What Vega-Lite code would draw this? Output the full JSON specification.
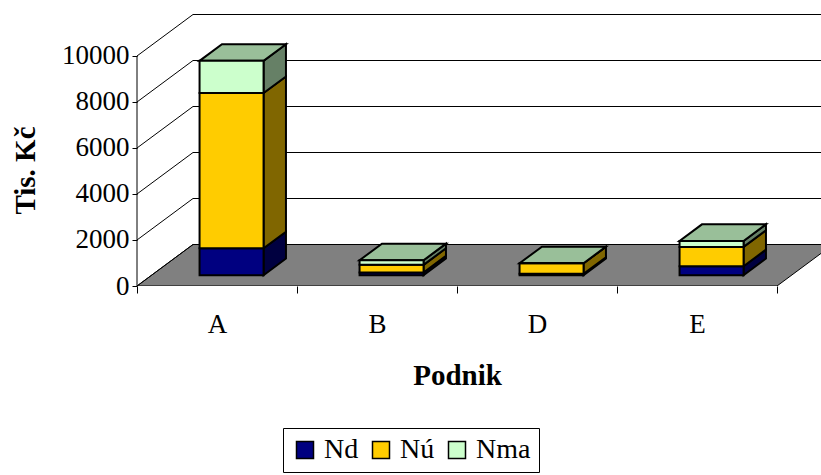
{
  "$schema": "https://vega.github.io/schema/vega-lite/v6.json",
  "width": 684,
  "height": 272,
  "autosize": {"type": "none"},
  "padding": {"left": 137, "top": 14, "right": 0, "bottom": 189},
  "background": "white",
  "config": {
    "view": {"stroke": null},
    "font": "Liberation Serif",
    "axis": {"labelColor": "black", "titleColor": "black", "tickColor": "black", "labelFont": "Liberation Serif", "titleFont": "Liberation Serif"}
  },
  "datasets": {
    "naklady": [
      {"podnik": "A", "slozka": "Nd", "hodnota": 1170},
      {"podnik": "A", "slozka": "Nú", "hodnota": 6750},
      {"podnik": "A", "slozka": "Nma", "hodnota": 1400},
      {"podnik": "B", "slozka": "Nd", "hodnota": 120},
      {"podnik": "B", "slozka": "Nú", "hodnota": 330},
      {"podnik": "B", "slozka": "Nma", "hodnota": 200},
      {"podnik": "D", "slozka": "Nd", "hodnota": 60},
      {"podnik": "D", "slozka": "Nú", "hodnota": 460},
      {"podnik": "D", "slozka": "Nma", "hodnota": 0},
      {"podnik": "E", "slozka": "Nd", "hodnota": 390},
      {"podnik": "E", "slozka": "Nú", "hodnota": 840},
      {"podnik": "E", "slozka": "Nma", "hodnota": 260}
    ],
    "mrizka": [
      {"v": 0}, {"v": 2000}, {"v": 4000}, {"v": 6000}, {"v": 8000}, {"v": 10000}
    ]
  },
  "layer": [
    {
      "data": {"name": "naklady"},
      "transform": [
        {"aggregate": [{"op": "distinct", "field": "podnik", "as": "n"}]},
        {"calculate": "0", "as": "r0"},
        {"calculate": "0.35", "as": "r1"},
        {"calculate": "datum.n", "as": "r2"},
        {"calculate": "datum.n + 0.35", "as": "r3"},
        {"fold": ["r0", "r1", "r2", "r3"], "as": ["roh", "fx"]},
        {"calculate": "datum.roh === 'r3' ? 1804 : 0", "as": "fy"},
        {"calculate": "datum.roh === 'r0' ? 0 : 1804", "as": "fy2"}
      ],
      "mark": {"type": "area", "color": "#808080", "stroke": "black", "strokeWidth": 1, "clip": true},
      "encoding": {
        "x": {
          "field": "fx", "type": "quantitative",
          "scale": {"domain": [0, 4.275], "nice": false, "zero": false},
          "title": "Podnik",
          "axis": {
            "values": [0, 1, 2, 3, 4],
            "labelExpr": "['A','B','D','E',''][datum.value]",
            "labelOffset": 80, "labelFlush": false, "labelOverlap": false, "labelBound": false,
            "labelFontSize": 27, "labelPadding": 18,
            "tickSize": 7, "tickWidth": 1, "domain": false, "grid": false,
            "titleFontSize": 29, "titleFontWeight": "bold",
            "titleX": 320, "titleY": 89, "titleAlign": "center", "titleBaseline": "middle"
          }
        },
        "y": {
          "field": "fy", "type": "quantitative", "stack": null,
          "scale": {"domain": [0, 11826], "nice": false, "zero": false},
          "title": "Tis. Kč",
          "axis": {
            "values": [0, 2000, 4000, 6000, 8000, 10000], "format": "d",
            "labelFontSize": 27, "labelPadding": 3,
            "tickSize": 5, "tickWidth": 1, "domain": false, "grid": false,
            "titleFontSize": 29, "titleFontWeight": "bold", "titleAngle": -90,
            "titleX": -112, "titleY": 156, "titleAlign": "center", "titleBaseline": "middle"
          }
        },
        "y2": {"field": "fy2"}
      }
    },
    {
      "data": {"name": "mrizka"},
      "transform": [{"calculate": "datum.v + 1804", "as": "yb"}],
      "mark": {"type": "rule", "color": "black", "strokeWidth": 1, "clip": true},
      "encoding": {
        "x": {"datum": 0.35, "type": "quantitative", "title": "Podnik"},
        "x2": {"datum": 4.4},
        "y": {"field": "yb", "type": "quantitative", "title": "Tis. Kč"}
      }
    },
    {
      "data": {"name": "mrizka"},
      "transform": [{"calculate": "datum.v + 1804", "as": "yb"}],
      "mark": {"type": "rule", "color": "black", "strokeWidth": 1},
      "encoding": {
        "x": {"datum": 0, "type": "quantitative", "title": "Podnik"},
        "x2": {"datum": 0.35},
        "y": {"field": "v", "type": "quantitative", "title": "Tis. Kč"},
        "y2": {"field": "yb"}
      }
    },
    {
      "data": {"name": "mrizka"},
      "transform": [{"aggregate": [{"op": "min", "field": "v", "as": "vmin"}, {"op": "max", "field": "v", "as": "vmax"}]}],
      "mark": {"type": "rule", "color": "black", "strokeWidth": 1},
      "encoding": {
        "x": {"datum": 0, "type": "quantitative", "title": "Podnik"},
        "y": {"field": "vmin", "type": "quantitative", "title": "Tis. Kč"},
        "y2": {"field": "vmax"}
      }
    },
    {
      "data": {"name": "naklady"},
      "transform": [
        {"calculate": "indexof(['A','B','D','E'], datum.podnik)", "as": "i"},
        {"calculate": "indexof(['Nd','Nú','Nma'], datum.slozka)", "as": "poradi"},
        {"stack": "hodnota", "groupby": ["podnik"], "sort": [{"field": "poradi", "order": "ascending"}], "as": ["y0", "y1"]},
        {"calculate": "datum.i + 0.791", "as": "s0"},
        {"calculate": "datum.i + 0.931", "as": "s1"},
        {"fold": ["s0", "s1"], "as": ["hrana", "fx"]},
        {"calculate": "datum.hrana === 's0' ? 469 : 1191", "as": "h"},
        {"calculate": "datum.y0 + datum.h", "as": "sy"},
        {"calculate": "datum.y1 + datum.h", "as": "sy2"}
      ],
      "mark": {"type": "area", "stroke": "black", "strokeWidth": 2, "strokeJoin": "miter"},
      "encoding": {
        "x": {"field": "fx", "type": "quantitative", "title": "Podnik"},
        "y": {"field": "sy", "type": "quantitative", "stack": null, "title": "Tis. Kč"},
        "y2": {"field": "sy2"},
        "fill": {"field": "slozka", "type": "nominal", "scale": {"domain": ["Nd", "Nú", "Nma"], "range": ["#000040", "#806600", "#668066"]}, "legend": null},
        "detail": [{"field": "podnik"}, {"field": "slozka"}]
      }
    },
    {
      "data": {"name": "naklady"},
      "transform": [
        {"calculate": "indexof(['A','B','D','E'], datum.podnik)", "as": "i"},
        {"calculate": "indexof(['Nd','Nú','Nma'], datum.slozka)", "as": "poradi"},
        {"stack": "hodnota", "groupby": ["podnik"], "sort": [{"field": "poradi", "order": "ascending"}], "as": ["y0", "y1"]},
        {"filter": "datum.poradi === 2"},
        {"calculate": "datum.i + 0.391", "as": "t0"},
        {"calculate": "datum.i + 0.531", "as": "t1"},
        {"calculate": "datum.i + 0.791", "as": "t2"},
        {"calculate": "datum.i + 0.931", "as": "t3"},
        {"fold": ["t0", "t1", "t2", "t3"], "as": ["roh", "fx"]},
        {"calculate": "datum.roh === 't3' ? datum.y1 + 1191 : datum.y1 + 469", "as": "ty"},
        {"calculate": "datum.roh === 't0' ? datum.y1 + 469 : datum.y1 + 1191", "as": "ty2"}
      ],
      "mark": {"type": "area", "color": "#99BF99", "stroke": "black", "strokeWidth": 2, "strokeJoin": "miter"},
      "encoding": {
        "x": {"field": "fx", "type": "quantitative", "title": "Podnik"},
        "y": {"field": "ty", "type": "quantitative", "stack": null, "title": "Tis. Kč"},
        "y2": {"field": "ty2"},
        "detail": {"field": "podnik"}
      }
    },
    {
      "data": {"name": "naklady"},
      "transform": [
        {"calculate": "indexof(['A','B','D','E'], datum.podnik)", "as": "i"},
        {"calculate": "indexof(['Nd','Nú','Nma'], datum.slozka)", "as": "poradi"},
        {"stack": "hodnota", "groupby": ["podnik"], "sort": [{"field": "poradi", "order": "ascending"}], "as": ["y0", "y1"]},
        {"calculate": "datum.i + 0.391", "as": "xl"},
        {"calculate": "datum.i + 0.791", "as": "xr"},
        {"calculate": "datum.y0 + 469", "as": "py0"},
        {"calculate": "datum.y1 + 469", "as": "py1"}
      ],
      "mark": {"type": "rect", "stroke": "black", "strokeWidth": 2},
      "encoding": {
        "x": {"field": "xl", "type": "quantitative", "title": "Podnik"},
        "x2": {"field": "xr"},
        "y": {"field": "py0", "type": "quantitative", "title": "Tis. Kč"},
        "y2": {"field": "py1"},
        "fill": {
          "field": "slozka", "type": "nominal",
          "scale": {"domain": ["Nd", "Nú", "Nma"], "range": ["#000080", "#FFCC00", "#CCFFCC"]},
          "legend": {
            "title": null, "orient": "none", "legendX": 146, "legendY": 414,
            "direction": "horizontal",
            "symbolType": "square", "symbolSize": 289,
            "symbolStrokeColor": "black", "symbolStrokeWidth": 1.5, "symbolOpacity": 1,
            "labelFont": "Liberation Serif", "labelFontSize": 28, "labelColor": "black",
            "labelOffset": 5, "columnPadding": 8, "padding": 8,
            "strokeColor": "black", "fillColor": "white"
          }
        }
      }
    }
  ],
  "resolve": {"scale": {"fill": "independent"}, "legend": {"fill": "independent"}}
}
